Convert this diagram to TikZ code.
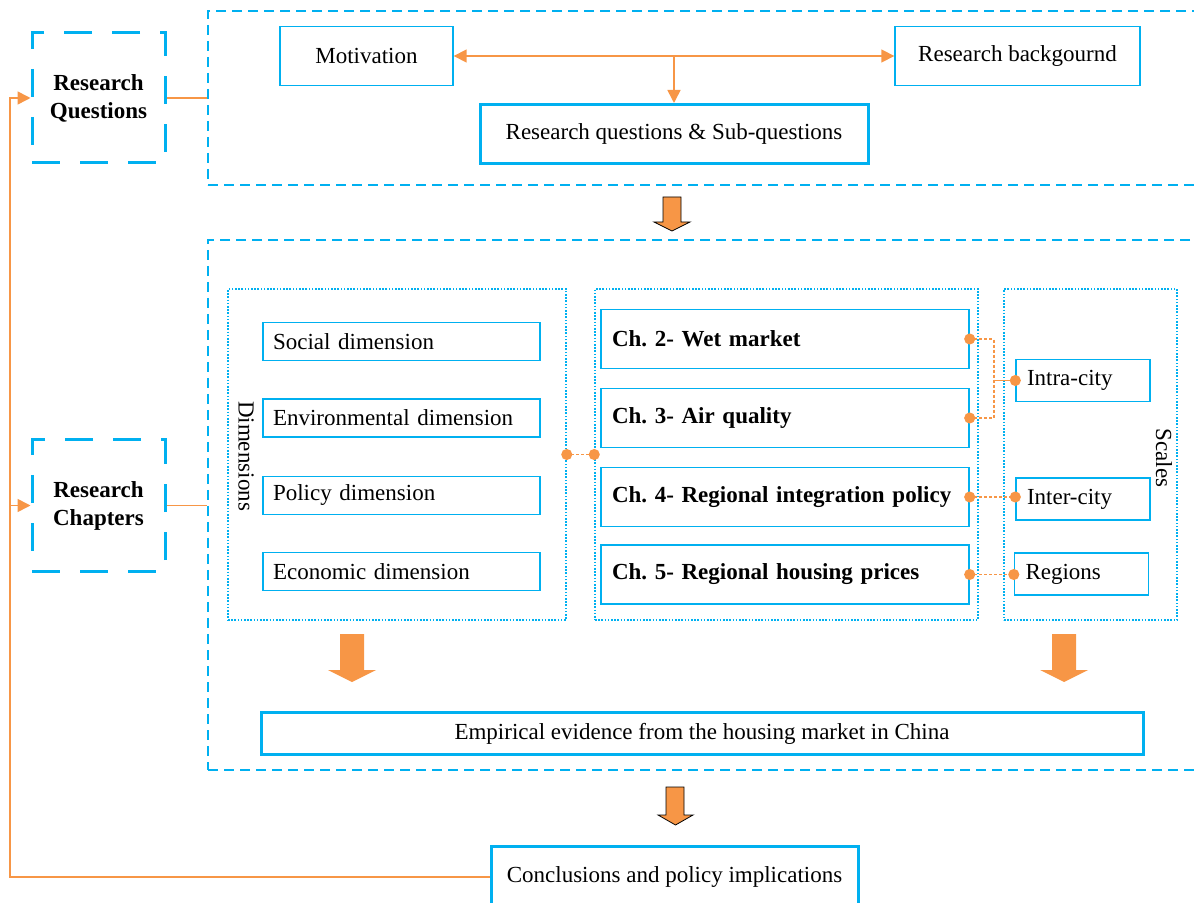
\documentclass[tikz,border=0pt]{standalone}
\usepackage{fontspec}
\setmainfont{Liberation Serif}
\usetikzlibrary{arrows.meta, positioning}
\definecolor{boxblue}{RGB}{0,176,240}
\definecolor{linkorange}{RGB}{247,150,70}
\frenchspacing

\begin{document}
\begin{tikzpicture}[x=0.5pt, y=-0.5pt, font=\fontsize{11.5}{13.5}\selectfont,
    thinbox/.style={draw=boxblue, line width=0.7pt, rectangle, inner sep=0pt},
    thickbox/.style={draw=boxblue, line width=1.5pt, rectangle, inner sep=0pt},
    groupbox/.style={draw=boxblue, line width=0.75pt, dash pattern=on 5pt off 3pt, rectangle, inner sep=0pt},
    sidebox/.style={draw=boxblue, line width=1.5pt, dash pattern=on 14pt off 10pt, rectangle, inner sep=0pt,
        minimum width=66.5pt, font=\fontsize{11.5}{14}\selectfont\bfseries, align=center},
    dotbox/.style={draw=boxblue, line width=0.75pt, dash pattern=on 0.8pt off 0.8pt, rectangle, inner sep=0pt,
        minimum height=165.5pt},
    dimbox/.style={thinbox, inner xsep=5pt, text width=128.5pt, minimum height=19pt, align=left},
    chapbox/.style={thinbox, inner xsep=5.5pt, text width=173pt, minimum height=29.5pt, align=left, font=\fontsize{11.5}{13.5}\selectfont\bfseries},
    scalebox/.style={thinbox, inner xsep=5.5pt, text width=56pt, minimum height=21pt, align=left},
    link/.style={draw=linkorange, line width=0.8pt},
    dotlink/.style={link, dash pattern=on 1.5pt off 1pt},
    tri/.tip={Triangle[length=6.5pt, width=6.5pt]},
    dot/.tip={Circle[length=5.5pt]},
    blockarrow/.style={fill=linkorange, draw=black, line width=0.4pt},
    flatarrow/.style={fill=linkorange, draw=none}
]
\useasboundingbox (0,0) rectangle (1194,903);
\clip (0,0) rectangle (1194,903);

% Side labels
\node[sidebox, minimum height=65pt] (rq) at (98.5,98) {Research\\Questions};
\node[sidebox, minimum height=65.5pt] (rc) at (98.5,505.5) {Research\\Chapters};

% Top part: research questions
\node[groupbox, minimum width=501pt, minimum height=87pt] (topframe) at (709,98) {};
\node[thinbox, minimum width=86.5pt, minimum height=29.5pt] (motiv) at (366.5,56) {Motivation};
\node[thinbox, minimum width=122.5pt, minimum height=29.5pt] (backgr) at (1017.5,56) {Research backgournd};
\node[thickbox, minimum width=194pt, minimum height=29.5pt] (rqsq) at (674,134) {Research questions \& Sub-questions};

\draw[link, tri-tri] (motiv.east) -- (backgr.west);
\draw[link, -tri] (rqsq.north |- motiv.east) -- (rqsq.north);
\draw[link] (rq.east) -- (rq.east -| topframe.west);

\draw[blockarrow] (663,197) -- (681,197) -- (681,222) -- (690,222) -- (672,231) -- (654,222) -- (663,222) -- cycle;

% Middle part: research chapters
\node[groupbox, minimum width=501pt, minimum height=265pt] (midframe) at (709,505) {};
\draw[link] (rc.east) -- (rc.east -| midframe.west);

\node[dotbox, minimum width=169pt] (dimframe) at (397,454.5) {};
\node[dotbox, minimum width=191.5pt] (chapframe) at (786.5,454.5) {};
\node[dotbox, minimum width=86.5pt] (scaleframe) at (1090.5,454.5) {};
\node[rotate=-90] (dimlabel) at (246,456) {Dimensions};
\node[rotate=-90] (scalelabel) at (1164,458) {Scales};

\node[dimbox] (social) at (401.5,341.5) {Social dimension};
\node[dimbox] (environ) at (401.5,418) {Environmental dimension};
\node[dimbox] (policy) at (401.5,495.5) {Policy dimension};
\node[dimbox] (econ) at (401.5,571.5) {Economic dimension};

\node[chapbox] (ch2) at (785,339) {Ch. 2- Wet market};
\node[chapbox] (ch3) at (785,418) {Ch. 3- Air quality};
\node[chapbox] (ch4) at (785,497) {Ch. 4- Regional integration policy};
\node[chapbox] (ch5) at (785,574.5) {Ch. 5- Regional housing prices};

\node[scalebox] (intra) at (1083,380.5) {Intra-city};
\node[scalebox] (inter) at (1083,499) {Inter-city};
\node[scalebox] (regions) at (1081.5,574) {Regions};

\draw[dotlink, dot-dot, shorten <=-2.75pt, shorten >=-2.75pt] (dimframe.east) -- (chapframe.west);
\draw[dotlink, dot-dot, shorten <=-2.75pt, shorten >=-2.75pt] (ch2.east) -- ++(24,0) coordinate (bend) |- (ch3.east);
\draw[link, -dot, shorten >=-2.75pt] (bend |- intra.west) -- (intra.west);
\draw[dotlink, dot-dot, shorten <=-2.75pt, shorten >=-2.75pt] (ch4.east) -- (ch4.east -| inter.west);
\draw[dotlink, dot-dot, shorten <=-2.75pt, shorten >=-2.75pt] (ch5.east) -- (ch5.east -| regions.west);

\draw[flatarrow] (340,634) -- (364,634) -- (364,670) -- (376,670) -- (352,682) -- (328,670) -- (340,670) -- cycle;
\draw[flatarrow] (1052,634) -- (1076,634) -- (1076,670) -- (1088,670) -- (1064,682) -- (1040,670) -- (1052,670) -- cycle;

\node[thickbox, minimum width=441pt, minimum height=21pt] (empir) at (702,733.5) {Empirical evidence from the housing market in China};

\draw[blockarrow] (666,787) -- (684,787) -- (684,815) -- (693,815) -- (675.5,825) -- (658,815) -- (666,815) -- cycle;

% Bottom: conclusions and feedback line
\node[thickbox, minimum width=183.5pt, minimum height=31pt] (concl) at (674.5,877) {Conclusions and policy implications};
\coordinate (backbone) at (10,0);
\draw[link, -tri] (concl.west) -| (backbone |- rq.west) -- (rq.west);
\draw[link, -tri] (backbone |- rc.west) -- (rc.west);
\end{tikzpicture}
\end{document}
